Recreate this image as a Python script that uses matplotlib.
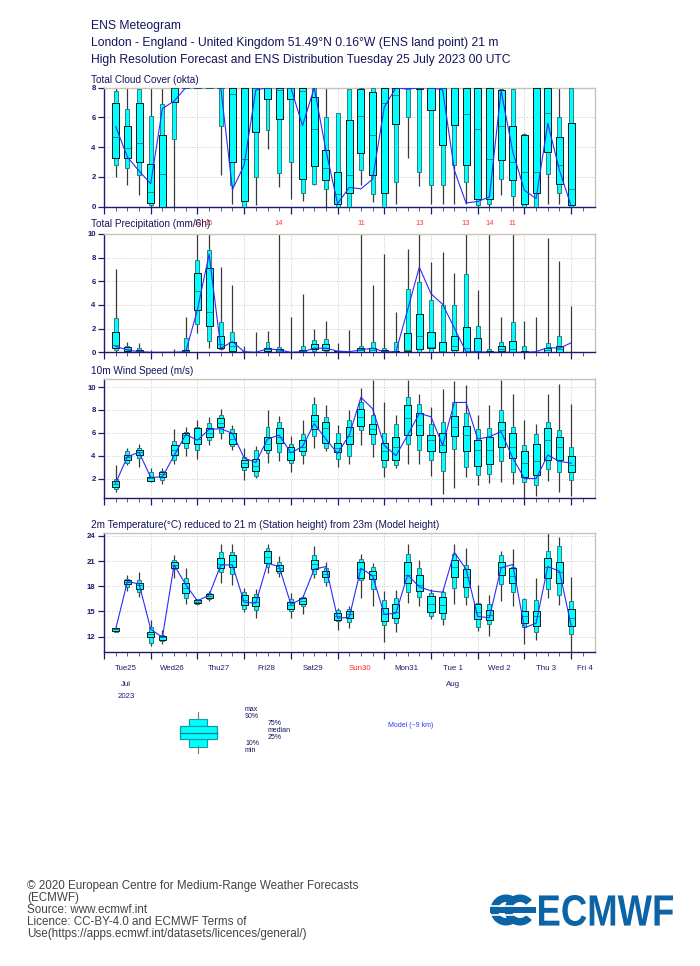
import matplotlib
matplotlib.use('Agg')
import matplotlib.pyplot as plt
import numpy as np
from matplotlib.patches import Rectangle, Wedge, PathPatch
from matplotlib.textpath import TextPath
from matplotlib.font_manager import FontProperties
from matplotlib.transforms import Affine2D, blended_transform_factory

plt.rcParams['font.family'] = ['Liberation Sans', 'DejaVu Sans']

# ---------------- data ----------------
steps_h = list(range(6, 241, 6))  # forecast steps (hours after Tue 25 Jul 2023 00 UTC)

# Total cloud cover (okta)
cloud_min = [2.0,1.45,0.8,0.0,0.0,0.0,8,8,8,2.1,0.15,0.0,0.1,3.9,1.3,0.5,0.4,1.45,0.0,0.0,
             0.0,1.45,0.3,0.0,0.2,3.25,1.4,0.15,0.2,0.2,0.2,0.0,0.0,0.8,0.05,0.0,0.0,0.2,0.2,0.0]
cloud_p10 = [2.8,2.6,2.1,0.1,0.0,4.55,8,8,8,5.4,1.45,0.0,2.0,5.15,2.25,3.0,0.95,1.55,1.2,0.0,
             0.0,2.45,0.85,0.0,1.65,6.0,2.35,1.45,1.45,2.8,1.65,0.1,0.2,1.85,0.75,0.0,0.0,2.2,0.9,0.0]
cloud_p25 = [3.3,3.25,3.0,0.27,0.0,7.05,8,8,8,8,3.0,0.4,5.05,7.25,5.9,7.25,1.85,2.75,1.8,0.2,
             0.9,3.6,2.1,0.95,5.55,8,7.9,6.5,4.15,5.5,2.8,0.5,0.5,3.15,1.8,0.2,0.95,3.7,1.5,0.1]
cloud_p50 = [4.7,3.95,4.3,1.0,2.2,8,8,8,8,8,7.6,3.2,8,8,7.85,8,7.8,5.25,2.6,0.85,
             2.1,6.1,4.8,7.0,7.5,8,8,8,8,8,6.2,5.25,3.2,5.4,3.0,2.3,2.3,6.3,2.8,1.2]
cloud_p75 = [7.0,5.45,7.0,2.9,4.8,8,8,8,8,8,8,8,8,8,8,8,8,7.35,3.8,2.3,
             5.8,7.9,7.7,8,8,8,8,8,8,8,8,8,8,7.85,5.4,4.85,8,8,4.7,5.65]
cloud_p90 = [7.8,6.6,7.9,6.1,6.9,8,8,8,8,8,8,8,8,8,8,8,8,8,6.0,6.3,
             7.9,8,8,8,8,8,8,8,8,8,8,8,8,7.9,7.9,4.9,8,8,6.0,8]
cloud_max = [8,8,8,8,8,8,8,8,8,8,8,8,8,8,8,8,8,8,8,6.3,
             8,8,8,8,8,8,8,8,8,8,8,8,8,8,8,4.95,8,8,8,8]
cloud_hres = [5.4,3.35,2.4,1.55,6.6,7.1,8,8,8,8,1.15,2.8,7.85,8,8,8,5.45,8,3.8,0.2,
              1.3,1.2,1.85,6.7,8,7.9,8,8,7.85,2.45,0.25,0.35,0.65,7.8,3.7,1.1,0.55,5.6,2.45,0.05]

# Total precipitation (mm/6h)
prec_min = [0,0,0,0,0,0,0,1.6,0.35,0.2,0,0,0,0,0,0,0,0,0,0,
            0,0,0,0,0,0,0,0,0,0,0,0,0,0,0,0,0,0,0,0]
prec_p10 = [0.2,0.1,0,0,0,0,0,2.4,0.95,0.3,0.1,0,0,0.05,0,0,0,0.1,0.1,0,
            0,0.05,0.02,0,0,0.05,0.05,0.05,0.02,0.05,0.02,0.02,0,0.05,0.02,0,0,0.02,0.02,0]
prec_p25 = [0.35,0.15,0.05,0,0,0,0.05,3.55,2.25,0.4,0.15,0,0,0.1,0.05,0,0.03,0.3,0.2,0.02,
            0,0.05,0.05,0.02,0.02,0.1,0.25,0.4,0.05,0.2,0.05,0.05,0,0.1,0.05,0.02,0,0.05,0.05,0]
prec_p50 = [0.6,0.3,0.1,0,0,0,0.1,5.15,3.4,0.7,0.5,0.02,0,0.25,0.15,0,0.1,0.4,0.35,0.05,
            0,0.2,0.2,0.1,0.05,0.2,1.4,0.45,0.15,0.5,0.35,0.1,0.05,0.3,0.3,0.05,0,0.2,0.25,0]
prec_p75 = [1.7,0.45,0.22,0,0,0,0.2,6.7,7.15,1.4,0.9,0.05,0,0.4,0.3,0,0.2,0.7,0.7,0.1,
            0,0.35,0.4,0.2,0.1,1.6,3.2,1.7,0.85,1.35,2.1,1.2,0.15,0.5,0.95,0.1,0.02,0.35,0.5,0.02]
prec_p90 = [2.9,0.55,0.35,0.02,0,0,1.2,7.8,8.65,2.6,1.75,0.1,0.02,0.9,0.45,0.02,0.5,1.05,1.1,0.12,
            0.02,0.55,0.9,0.4,0.9,5.35,5.95,4.45,4.0,4.0,6.6,2.2,0.25,0.9,2.55,0.55,0.05,0.75,1.35,0.05]
prec_max = [7.0,0.85,0.8,0.2,0.05,0.3,2.95,13,15,7.25,5.65,0.5,1.7,1.8,14,2.95,4.95,1.95,2.65,0.75,
            1.9,11,5.65,8.3,3.4,8.75,13,7.6,8.45,6.7,13,5.3,14,2.95,11,2.65,2.95,9.7,7.7,3.95]
prec_hres = [0.5,0.2,0.05,0,0,0,0.05,3.6,8.3,0.35,0.9,0.05,0,0.3,0.2,0,0.05,0.35,0.35,0.1,
             0.05,0.2,0.35,0.05,0.05,3.6,7.2,4.95,4.05,2.05,0.05,0.05,0,0,0,0,0.05,0.4,0.35,0.8]

# 10m wind speed (m/s)
wind_min = [0.8,3.15,3.05,1.7,1.5,3.25,4.0,3.7,4.9,5.45,4.5,1.9,2.05,3.4,3.5,2.55,3.25,4.7,4.4,3.05,
            3.25,4.9,3.9,2.15,2.95,3.25,3.25,2.25,0.65,1.15,2.1,1.4,1.6,1.7,1.5,0.25,0.5,1.8,0.85,0.5]
wind_p10 = [1.1,3.4,3.8,1.75,1.9,3.6,4.65,4.5,5.35,6.0,4.85,2.75,2.25,4.2,4.3,3.35,4.05,5.75,4.65,3.7,
            4.0,6.25,5.0,3.05,3.2,5.05,4.5,3.6,2.65,4.6,3.05,2.3,2.4,3.5,2.6,1.7,1.45,2.85,2.55,1.9]
wind_p25 = [1.25,3.6,4.05,1.8,2.1,4.1,5.1,5.0,5.65,6.5,5.0,3.05,2.65,4.5,5.1,3.6,4.4,6.3,5.15,4.3,
            5.0,6.6,5.85,3.6,3.6,5.8,5.8,4.4,4.3,5.75,4.4,3.1,3.25,4.8,3.8,2.15,2.3,3.6,3.6,2.55]
wind_p50 = [1.5,3.9,4.3,2.05,2.4,4.5,5.8,5.45,6.0,6.85,5.45,3.35,3.1,5.05,5.65,4.3,4.8,7.0,6.45,4.65,
            5.7,7.4,6.35,4.4,4.8,7.25,6.7,5.35,4.9,6.5,5.8,4.5,4.5,6.25,4.8,3.4,3.5,5.35,4.8,3.2]
wind_p75 = [1.75,4.1,4.5,2.15,2.55,4.95,5.95,6.4,6.4,7.25,5.95,3.6,3.7,5.65,6.4,4.8,5.35,7.55,6.95,5.15,
            6.5,8.1,6.8,5.15,5.65,8.45,7.7,5.8,5.95,7.5,6.6,5.35,5.65,6.95,5.95,4.4,5.05,6.45,5.65,4.0]
wind_p90 = [1.95,4.4,4.65,2.6,2.65,5.3,6.1,6.5,6.85,7.55,6.3,3.9,4.5,6.5,6.95,5.0,5.85,8.55,7.4,5.95,
            7.1,8.65,7.55,5.95,6.8,9.15,8.55,6.8,6.95,8.65,7.75,6.3,6.4,7.95,6.5,4.95,5.85,6.95,6.25,4.8]
wind_max = [3.2,4.7,5.05,2.95,2.9,6.3,6.5,7.1,7.4,8.1,6.7,4.65,4.85,7.95,7.45,5.75,7.1,9.15,8.4,6.65,
            7.95,9.9,10.6,8.65,7.55,10.65,9.35,8.25,9.8,10.5,10.15,7.55,8.45,10.65,9.35,7.1,6.8,9.4,10.3,8.55]
wind_hres = [1.6,3.9,4.3,2.1,2.15,4.0,5.85,5.35,6.3,6.35,5.95,3.8,3.4,5.45,5.8,4.25,4.8,6.8,5.45,4.2,
             5.8,9.1,8.1,4.9,4.0,5.8,7.7,7.4,4.9,8.65,8.65,5.45,5.65,6.1,3.8,2.0,2.0,4.05,3.5,3.35]

# 2m temperature (deg C)
temp_min = [12.5,17.45,16.75,10.9,11.1,18.95,15.85,15.8,16.25,18.35,18.1,14.9,14.2,19.55,19.15,14.25,14.65,18.95,18.05,12.8,
            13.05,16.55,15.6,11.3,12.5,15.95,15.6,14.1,13.4,15.85,15.8,12.7,12.1,16.25,15.6,11.1,11.6,16.55,15.8,10.2]
temp_p10 = [12.6,17.95,17.35,11.2,11.5,20.05,16.55,15.85,16.5,19.65,19.45,15.3,15.2,20.35,19.55,15.0,15.7,19.45,18.55,13.85,
            13.7,18.7,17.7,13.4,13.6,17.35,16.75,14.4,14.1,17.85,16.75,13.2,13.45,18.25,17.35,13.2,12.5,17.7,16.95,12.3]
temp_p25 = [12.7,18.25,17.7,11.9,11.6,20.15,17.15,15.95,16.65,20.15,20.35,15.75,15.6,20.75,19.85,15.3,15.85,20.05,19.05,14.0,
            14.25,18.95,18.85,13.85,14.2,18.35,17.45,14.9,14.8,19.15,17.95,14.1,14.0,19.35,18.35,13.6,13.3,18.95,18.35,13.3]
temp_p50 = [12.9,18.5,18.1,12.3,11.9,20.55,17.85,16.15,16.85,20.6,21.0,16.35,16.15,21.55,20.2,15.8,16.25,20.6,19.45,14.4,
            14.65,20.1,19.35,14.65,14.9,19.35,18.15,15.85,15.8,20.35,19.15,14.9,14.6,20.35,19.25,14.4,14.5,20.35,19.75,14.2]
temp_p75 = [13.0,18.7,18.35,12.6,12.1,20.95,18.35,16.35,17.05,21.4,21.75,16.95,16.75,22.2,20.55,16.1,16.65,21.15,19.85,14.8,
            15.0,20.95,19.85,15.4,15.85,20.95,19.35,16.9,16.75,21.15,20.05,15.85,15.2,20.85,20.15,15.0,15.05,21.35,20.85,15.3]
temp_p90 = [13.05,18.85,18.75,13.2,12.2,21.15,19.0,16.45,17.15,22.05,22.05,17.3,17.05,22.55,20.95,16.5,16.75,21.75,20.15,15.2,
            15.3,21.25,20.35,16.35,16.55,21.8,20.2,17.15,17.35,21.8,20.55,15.95,15.85,21.75,20.35,16.5,16.35,22.2,22.75,16.25]
temp_max = [13.2,19.3,19.75,14.0,12.8,21.75,20.15,16.5,17.45,23.0,23.1,17.75,17.7,23.0,21.65,17.15,16.95,22.75,20.95,15.4,
            15.6,21.8,20.75,17.45,17.55,23.1,21.15,17.7,17.55,23.1,22.55,18.1,16.95,22.2,22.45,16.55,18.95,24.3,23.9,19.05]
temp_hres = [12.9,18.55,18.3,12.9,11.9,20.55,18.2,16.25,16.95,20.55,20.55,16.1,16.0,20.75,20.35,15.85,16.55,20.05,20.35,14.2,
             14.3,20.15,19.25,14.65,14.8,19.35,17.95,17.45,17.3,22.05,20.05,14.4,14.25,20.2,20.6,13.05,13.6,20.35,19.8,13.3]

day_labels = ['Tue25', 'Wed26', 'Thu27', 'Fri28', 'Sat29', 'Sun30', 'Mon31', 'Tue 1', 'Wed 2', 'Thu 3', 'Fri 4']
month_labels = {0: ['Jul', '2023'], 7: ['Aug']}
weekend_days = ['Sun30']

# ---------------- styling ----------------
W, H = 700, 966
NAVY = '#1c1c6e'
TEXT = '#14145c'
fig = plt.figure(figsize=(W / 100, H / 100), dpi=100)


def rect(l, t, r, b):
    return [l / W, 1 - b / H, (r - l) / W, (b - t) / H]


t = np.array(steps_h) / 24.0
WIDE, NARROW = 0.15, 0.085


def panel(box, ylim, yticks, stats, hres, title, title_y):
    ax = fig.add_axes(rect(*box))
    ax.set_xlim(0, 10.5)
    ax.set_ylim(*ylim)
    for s in ('left', 'bottom'):
        ax.spines[s].set_color(NAVY)
        ax.spines[s].set_linewidth(1.0)
    for s in ('top', 'right'):
        ax.spines[s].set_color('#c9c2b6')
        ax.spines[s].set_linewidth(1.0)
    ax.set_xticks(np.arange(0, 11))
    ax.set_xticks(np.arange(0, 10.5, 0.25), minor=True)
    ax.tick_params(axis='x', which='major', length=5, width=0.9, color=NAVY, labelbottom=False)
    ax.tick_params(axis='x', which='minor', length=3, width=0.7, color='#5a5a90')
    ax.set_yticks(yticks)
    ax.tick_params(axis='y', length=4, width=0.9, color=NAVY, labelcolor=NAVY, labelsize=5.6, pad=2)
    for lab in ax.get_yticklabels():
        lab.set_fontweight('bold')
    ax.grid(True, which='major', ls=(0, (1, 2)), color='#b8b8b8', lw=0.6)
    ax.set_axisbelow(True)

    mn, p10, p25, p50, p75, p90, mx = [np.array(a, float) for a in stats]
    ax.vlines(t, mn, p10, color='#3a3a3a', lw=0.9, zorder=2)
    ax.vlines(t, p90, mx, color='#3a3a3a', lw=0.9, zorder=2)
    ax.bar(t, p25 - p10, bottom=p10, width=NARROW, color='#00ffff', edgecolor='#2a6a6a', lw=0.6, zorder=3)
    ax.bar(t, p90 - p75, bottom=p75, width=NARROW, color='#00ffff', edgecolor='#2a6a6a', lw=0.6, zorder=3)
    ax.bar(t, p75 - p25, bottom=p25, width=WIDE, color='#00ffff', edgecolor='#0a1a1a', lw=0.7, zorder=4)
    ax.hlines(p50, t - WIDE / 2, t + WIDE / 2, color='#2a6f6f', lw=0.6, zorder=5)
    ax.plot(t, hres, color='#2b2bff', lw=0.8, zorder=6)
    fig.text(91 / W, 1 - title_y / H, title, color=TEXT, fontsize=7.2, va='center', ha='left')
    return ax


ax1 = panel((104, 87.7, 594.5, 206.7), (0, 8), [0, 2, 4, 6, 8],
            (cloud_min, cloud_p10, cloud_p25, cloud_p50, cloud_p75, cloud_p90, cloud_max),
            cloud_hres, 'Total Cloud Cover (okta)', 80)
ax2 = panel((104, 234, 594.5, 352.3), (0, 10), [0, 2, 4, 6, 8, 10],
            (prec_min, prec_p10, prec_p25, prec_p50, prec_p75, prec_p90, prec_max),
            prec_hres, 'Total Precipitation (mm/6h)', 224)
ax3 = panel((104, 379, 594.5, 498), (0.3, 10.7), [2, 4, 6, 8, 10],
            (wind_min, wind_p10, wind_p25, wind_p50, wind_p75, wind_p90, wind_max),
            wind_hres, '10m Wind Speed (m/s)', 371)
ax4 = panel((104, 533.3, 594.5, 651.7), (10.2, 24.32), [12, 15, 18, 21, 24],
            (temp_min, temp_p10, temp_p25, temp_p50, temp_p75, temp_p90, temp_max),
            temp_hres, '2m Temperature(°C) reduced to 21 m (Station height) from 23m (Model height)', 525)

# off-scale precipitation maxima
tr2 = blended_transform_factory(ax2.transData, ax2.transAxes)
for ti, v in zip(t, prec_max):
    if v > 10:
        ax2.text(ti, 1.085, f'{int(round(v))}', transform=tr2, color='#ff3b3b', fontsize=5.5,
                 ha='center', va='center', clip_on=False)

# date labels under the last panel
tr4 = blended_transform_factory(ax4.transData, fig.transFigure)
for d, lab in enumerate(day_labels):
    col = '#ff2a2a' if lab in weekend_days else NAVY
    xpos = d + 0.5
    ha = 'center'
    if d == len(day_labels) - 1:
        xpos, ha = 10.5, 'right'
    ax4.text(xpos - 0.03, 1 - 669 / H, lab, transform=tr4, color=col, fontsize=5.7, ha=ha, va='center')
    for k, extra in enumerate(month_labels.get(d, [])):
        ax4.text(xpos - 0.03, 1 - (684 + 13 * k) / H, extra, transform=tr4, color=NAVY,
                 fontsize=5.7, ha=ha, va='center')

# ---------------- overlay: header, legend, footer, logo ----------------
ov = fig.add_axes([0, 0, 1, 1], zorder=-1)
ov.set_xlim(0, W)
ov.set_ylim(H, 0)
ov.axis('off')

for y, s in zip([26, 43, 60], ['ENS Meteogram',
                               'London - England - United Kingdom 51.49°N 0.16°W (ENS land point) 21 m',
                               'High Resolution Forecast and ENS Distribution Tuesday 25 July 2023 00 UTC']):
    ov.text(91, y, s, color=TEXT, fontsize=8.7, va='center', ha='left')

# legend glyph
LC = '#0aa0a0'
ov.plot([198, 198], [712, 719], color='#777777', lw=0.8)
ov.plot([198, 198], [746, 753], color='#777777', lw=0.8)
ov.add_patch(Rectangle((189, 718.5), 18, 7.5, facecolor='#00ffff', edgecolor=LC, lw=0.8))
ov.add_patch(Rectangle((189, 739), 18, 7.5, facecolor='#00ffff', edgecolor=LC, lw=0.8))
ov.add_patch(Rectangle((180, 726), 37, 13, facecolor='#00ffff', edgecolor=LC, lw=0.9))
ov.plot([180, 217], [732.5, 732.5], color='#127a7a', lw=0.9)
for x, y, s in [(245, 709.5, 'max'), (245, 716.5, '90%'), (268, 723.3, '75%'), (268, 730.5, 'median'),
                (268, 737.5, '25%'), (245, 743.5, '10%'), (245, 750.5, 'min')]:
    ov.text(x, y, s, color=TEXT, fontsize=5, va='center', ha='left')
ov.text(388, 725.5, 'Model (~9 km)', color='#3535ff', fontsize=5, va='center', ha='left')

# footer
for y, s in zip([886, 898, 910, 922, 934],
                ['© 2020 European Centre for Medium-Range Weather Forecasts', '(ECMWF)',
                 'Source: www.ecmwf.int', 'Licence: CC-BY-4.0 and ECMWF Terms of',
                 'Use(https://apps.ecmwf.int/datasets/licences/general/)']):
    ov.text(27, y, s, color='#444444', fontsize=8.35, va='center', ha='left')

# ECMWF logo
BLUE = '#0c64a6'
tp = TextPath((0, 0), 'ECMWF', size=1, prop=FontProperties(family='Liberation Sans', weight='bold'))
bb = tp.get_extents()
x0, x1, y0, y1 = 539, 673, 895, 926
trf = Affine2D().translate(-bb.x0, -bb.y0).scale((x1 - x0) / bb.width, -(y1 - y0) / bb.height).translate(x0, y1)
ov.add_patch(PathPatch(trf.transform_path(tp), facecolor=BLUE, edgecolor='none'))
ov.add_patch(Wedge((506, 910), 15.5, 40, 320, width=7.5, facecolor=BLUE, edgecolor='none'))
ov.add_patch(Wedge((520, 910), 15.5, 40, 320, width=7.5, facecolor=BLUE, edgecolor='none'))
ov.add_patch(Rectangle((490, 907), 46, 6, facecolor=BLUE, edgecolor='none'))
ov.plot([490, 536], [905.5, 905.5], color='white', lw=1.2)
ov.plot([490, 536], [914.5, 914.5], color='white', lw=1.2)

fig.savefig('out.png', dpi=100)
